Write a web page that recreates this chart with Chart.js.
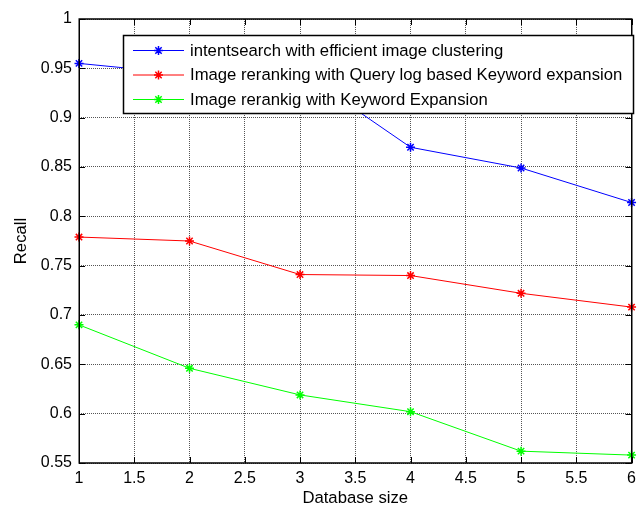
<!DOCTYPE html>
<html>
<head>
<meta charset="utf-8">
<title>Recall vs Database size</title>
<script src="https://cdn.jsdelivr.net/npm/chart.js@4/dist/chart.umd.min.js"></script>
<style>
    html, body { margin: 0; padding: 0; background: #fff; }
    #wrap { width: 642px; height: 509px; position: relative; }
</style>
</head>
<body>
<div id="wrap"><canvas id="recallChart"></canvas></div>
<script>
// Values
const databaseSizes = [1, 2, 3, 4, 5, 6];
const intentSearchRecall = [0.955, 0.944, 0.947, 0.870, 0.849, 0.814];
const queryLogRecall = [0.779, 0.775, 0.741, 0.740, 0.722, 0.708];
const keywordRecall = [0.690, 0.646, 0.619, 0.602, 0.562, 0.558];

const seriesLabels = [
    'intentsearch with efficient image clustering',
    'Image reranking with Query log based Keyword expansion',
    'Image rerankig with Keyword Expansion'
];
const seriesColors = ['#0000ff', '#ff0000', '#00ff00'];

const xMin = 1, xMax = 6, xStep = 0.5;
const yMin = 0.55, yMax = 1, yStep = 0.05;

const FONT = '"Liberation Sans", Arial, sans-serif';

document.addEventListener('DOMContentLoaded', () => {
    const toPoints = (values) => values.map((v, i) => ({ x: databaseSizes[i], y: v }));

    const datasets = [intentSearchRecall, queryLogRecall, keywordRecall].map((values, i) => ({
        label: seriesLabels[i],
        data: toPoints(values),
        borderColor: seriesColors[i],
        backgroundColor: seriesColors[i],
        borderWidth: 1,
        pointStyle: 'star',
        pointRadius: 4.5,
        pointBorderWidth: 1.5,
        tension: 0,
        clip: false
    }));

    // matlab style box, inward ticks and a boxed legend
    const matlabFrame = {
        id: 'matlabFrame',
        afterDraw(chart) {
            const { ctx, chartArea: a, scales } = chart;
            const tickLen = 6;
            ctx.save();
            ctx.strokeStyle = '#000';
            ctx.lineWidth = 1;
            ctx.beginPath();
            scales.x.ticks.forEach(t => {
                const px = Math.round(scales.x.getPixelForValue(t.value)) + 0.5;
                ctx.moveTo(px, a.bottom); ctx.lineTo(px, a.bottom - tickLen);
                ctx.moveTo(px, a.top); ctx.lineTo(px, a.top + tickLen);
            });
            scales.y.ticks.forEach(t => {
                const py = Math.round(scales.y.getPixelForValue(t.value)) + 0.5;
                ctx.moveTo(a.left, py); ctx.lineTo(a.left + tickLen, py);
                ctx.moveTo(a.right, py); ctx.lineTo(a.right - tickLen, py);
            });
            ctx.stroke();
            ctx.lineWidth = 1.5;
            ctx.strokeRect(Math.round(a.left) + 0.25, Math.round(a.top), Math.round(a.right - a.left) - 0.5, Math.round(a.bottom - a.top));

            // legend
            const box = { x: 123.5, y: 35.5, w: 510, h: 78 };
            ctx.fillStyle = '#fff';
            ctx.fillRect(box.x, box.y, box.w, box.h);
            ctx.lineWidth = 1.5;
            ctx.strokeStyle = '#000';
            ctx.strokeRect(box.x, box.y, box.w, box.h);

            const rows = [50, 74.5, 99];
            ctx.font = '16.7px ' + FONT;
            ctx.textBaseline = 'middle';
            ctx.textAlign = 'left';
            chart.data.datasets.forEach((ds, i) => {
                const y = rows[i] + 0.5;
                ctx.strokeStyle = ds.borderColor;
                ctx.lineWidth = 1;
                ctx.beginPath();
                ctx.moveTo(133, y); ctx.lineTo(184, y);
                ctx.stroke();
                ctx.lineWidth = 1.5;
                Chart.helpers.drawPoint(ctx, { pointStyle: 'star', radius: 4.5, borderWidth: 1.5 }, 158.5, y);
                ctx.fillStyle = '#000';
                ctx.fillText(ds.label, 190, rows[i] + 1);
            });
            ctx.restore();
        }
    };

    const gridStyle = {
        color: '#555',
        lineWidth: 1,
        drawTicks: false
    };

    new Chart(document.getElementById('recallChart'), {
        type: 'line',
        data: { datasets },
        options: {
            responsive: true,
            maintainAspectRatio: false,
            animation: false,
            layout: { padding: { top: 19, right: 1, left: 0, bottom: 0 } },
            plugins: {
                legend: { display: false },
                tooltip: { enabled: false }
            },
            scales: {
                x: {
                    type: 'linear',
                    min: xMin,
                    max: xMax,
                    grid: gridStyle,
                    border: { display: false, dash: [1, 1] },
                    ticks: {
                        stepSize: xStep,
                        color: '#000',
                        padding: 6,
                        maxRotation: 0,
                        font: { family: FONT, size: 16 },
                        callback: (v) => String(+v.toFixed(1))
                    },
                    title: {
                        display: true,
                        text: 'Database size',
                        color: '#000',
                        font: { family: FONT, size: 16.7 },
                        padding: { top: 0, bottom: 1 }
                    },
                    afterFit: (scale) => { scale.height = 46; }
                },
                y: {
                    type: 'linear',
                    min: yMin,
                    max: yMax,
                    grid: gridStyle,
                    border: { display: false, dash: [1, 1] },
                    ticks: {
                        stepSize: yStep,
                        color: '#000',
                        padding: 7,
                        font: { family: FONT, size: 16 },
                        callback: (v) => String(+v.toFixed(2))
                    },
                    title: {
                        display: true,
                        text: 'Recall',
                        color: '#000',
                        font: { family: FONT, size: 16.7 },
                        padding: { top: 11, bottom: 0 }
                    },
                    afterFit: (scale) => { scale.width = 79; }
                }
            }
        },
        plugins: [matlabFrame]
    });
});
</script>
</body>
</html>
